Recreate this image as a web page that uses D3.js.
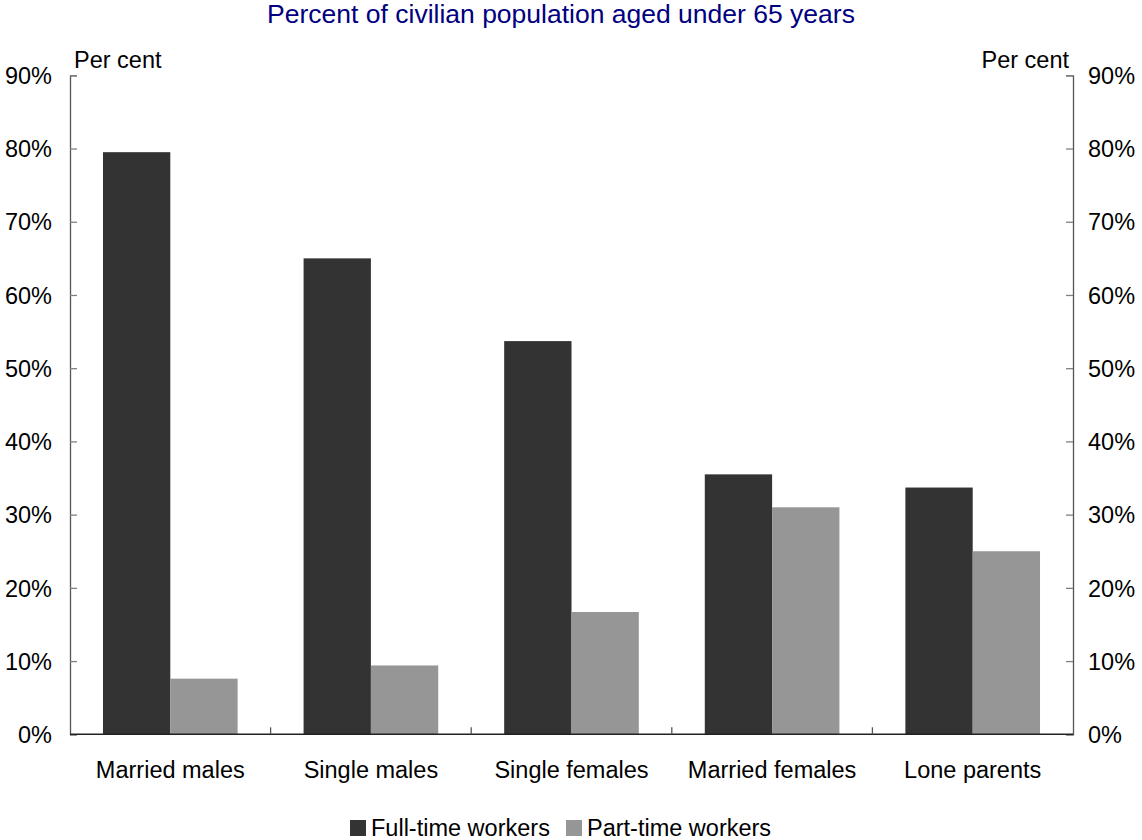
<!DOCTYPE html>
<html>
<head>
<meta charset="utf-8">
<script src="https://cdn.jsdelivr.net/npm/d3@7"></script>
<style>
  html, body { margin: 0; padding: 0; background: #fff; }
  svg { display: block; font-family: "Liberation Sans", Arial, sans-serif; }
</style>
</head>
<body>
<svg id="chart" width="1142" height="840"></svg>
<script>
// Employment by family type, percent of civilian population aged under 65
const categories = ["Married males", "Single males", "Single females", "Married females", "Lone parents"];
const seriesNames = ["Full-time workers", "Part-time workers"];
const fullTime = [79.5, 65.0, 53.7, 35.5, 33.7];
const partTime = [7.6, 9.4, 16.7, 31.0, 25.0];
const yTicks = [0, 10, 20, 30, 40, 50, 60, 70, 80, 90];
const subtitle = "Percent of civilian population aged under 65 years";
const unitLabel = "Per cent";

const colors = ["#333333", "#969696"];
const fontSize = 23.5;

const svg = d3.select("#chart");
const plotLeft = 70, plotRight = 1073, plotTop = 75.3, plotBottom = 734.3;

const x = d3.scaleBand().domain(categories).range([plotLeft, plotRight]).paddingInner(0).paddingOuter(0);
const y = d3.scaleLinear().domain([0, 90]).range([plotBottom, plotTop]);
const inner = d3.scaleBand().domain(seriesNames).range([0, x.bandwidth()]).paddingOuter(0.49).paddingInner(0);

// Subtitle
svg.append("text")
  .attr("x", 561).attr("y", 23)
  .attr("text-anchor", "middle")
  .attr("font-size", 26.5)
  .attr("fill", "#000080")
  .text(subtitle);

// Bars
const rows = categories.map((c, i) => ({ cat: c, values: [fullTime[i], partTime[i]] }));
const groups = svg.append("g").selectAll("g").data(rows).join("g")
  .attr("transform", d => `translate(${x(d.cat)},0)`);
groups.selectAll("rect")
  .data(d => d.values.map((v, j) => ({ v, s: seriesNames[j], j })))
  .join("rect")
  .attr("x", d => inner(d.s))
  .attr("width", inner.bandwidth())
  .attr("y", d => y(d.v))
  .attr("height", d => y(0) - y(d.v))
  .attr("fill", d => colors[d.j]);

// Left axis
const leftAxis = d3.axisLeft(y).tickValues(yTicks).tickFormat(d => d + "%").tickSize(-7).tickPadding(18);
const gl = svg.append("g").attr("transform", `translate(${plotLeft},0)`).call(leftAxis);
gl.select(".domain").attr("stroke", "#555").attr("stroke-width", 1.3);
gl.selectAll(".tick line").attr("stroke", "#808080").attr("stroke-width", 1.3);
gl.selectAll(".tick text").attr("font-size", fontSize).attr("fill", "#000")
  .attr("font-family", "Liberation Sans, Arial, sans-serif").attr("dy", "0.35em");

// Right axis
const rightAxis = d3.axisRight(y).tickValues(yTicks).tickFormat(d => d + "%").tickSize(-7).tickPadding(15);
const gr = svg.append("g").attr("transform", `translate(${plotRight},0)`).call(rightAxis);
gr.select(".domain").attr("stroke", "#555").attr("stroke-width", 1.3);
gr.selectAll(".tick line").attr("stroke", "#808080").attr("stroke-width", 1.3);
gr.selectAll(".tick text").attr("font-size", fontSize).attr("fill", "#000")
  .attr("font-family", "Liberation Sans, Arial, sans-serif").attr("dy", "0.35em");

// Bottom axis with ticks at category boundaries
const gb = svg.append("g").attr("transform", `translate(0,${plotBottom})`);
gb.append("line").attr("x1", plotLeft).attr("x2", plotRight).attr("stroke", "#222").attr("stroke-width", 1.5);
gb.selectAll("line.sep").data(categories.slice(1)).join("line")
  .attr("class", "sep")
  .attr("x1", d => x(d)).attr("x2", d => x(d))
  .attr("y1", 0).attr("y2", -7)
  .attr("stroke", "#555").attr("stroke-width", 1.3);
gb.selectAll("text.cat").data(categories).join("text")
  .attr("class", "cat")
  .attr("x", d => x(d) + x.bandwidth() / 2)
  .attr("y", 44)
  .attr("text-anchor", "middle")
  .attr("font-size", fontSize)
  .text(d => d);

// Unit labels
svg.append("text").attr("x", 74).attr("y", 68).attr("font-size", fontSize).text(unitLabel);
svg.append("text").attr("x", 1069).attr("y", 68).attr("font-size", fontSize).attr("text-anchor", "end").text(unitLabel);

// Legend
const legend = svg.append("g");
const legendItems = [{ name: seriesNames[0], x: 350 }, { name: seriesNames[1], x: 566 }];
legendItems.forEach((it, i) => {
  legend.append("rect").attr("x", it.x).attr("y", 820).attr("width", 16).attr("height", 16).attr("fill", colors[i]);
  legend.append("text").attr("x", it.x + 21).attr("y", 836).attr("font-size", fontSize).text(it.name);
});
</script>
</body>
</html>
